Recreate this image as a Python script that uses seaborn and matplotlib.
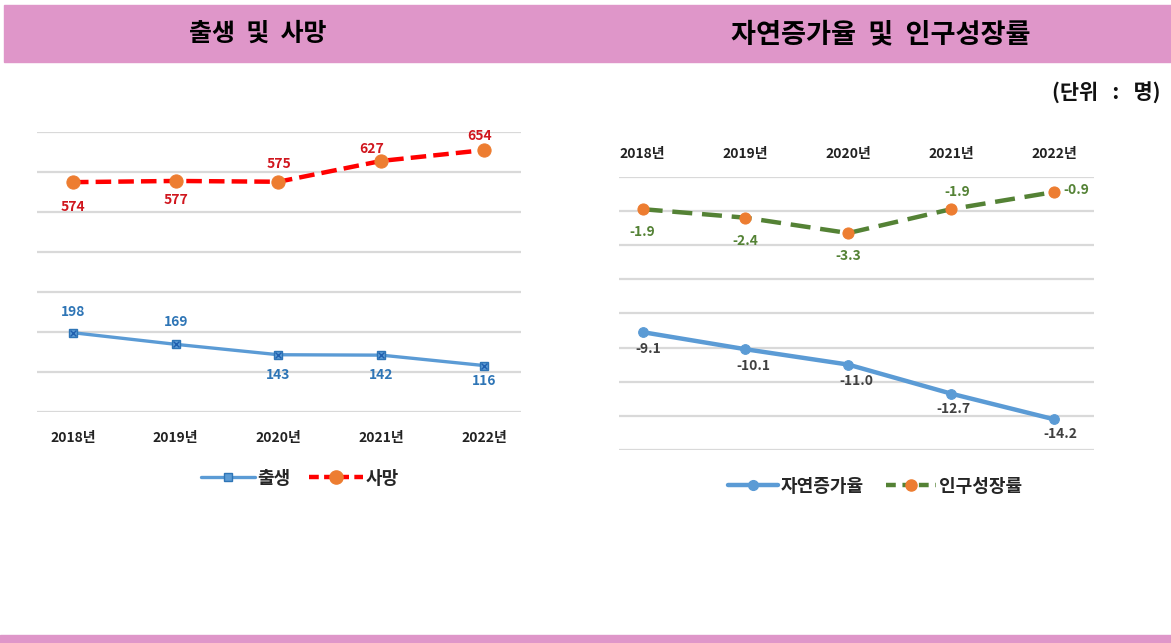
import matplotlib
matplotlib.use("Agg")
import matplotlib.pyplot as plt
import seaborn as sns
import numpy as np
from matplotlib.lines import Line2D
from matplotlib.patches import Rectangle

# ---- data ----
years = ["2018년", "2019년", "2020년", "2021년", "2022년"]
births = [198, 169, 143, 142, 116]
deaths = [574, 577, 575, 627, 654]
natural_rate = [-9.1, -10.1, -11.0, -12.7, -14.2]
growth_rate = [-1.9, -2.4, -3.3, -1.9, -0.9]

title_left = "출생  및  사망"
title_right = "자연증가율  및  인구성장률"
unit_text = "(단위   :   명)"

sns.set_theme(style="white")
plt.rcParams['font.family'] = ['Noto Sans CJK KR', 'DejaVu Sans']
plt.rcParams['axes.unicode_minus'] = False

W, H = 1171, 643
fig = plt.figure(figsize=(W / 100, H / 100), dpi=100)
fig.patch.set_facecolor("white")

def fx(px):
    return px / W

def fy(py):
    return 1 - py / H

PINK = "#DF96C9"
fig.patches.append(Rectangle((fx(4), fy(62)), 1 - fx(4), (62 - 5) / H,
                             transform=fig.transFigure, color=PINK, zorder=0))
fig.patches.append(Rectangle((0, 0), 1, (643 - 635) / H,
                             transform=fig.transFigure, color=PINK, zorder=0))
fig.text(fx(258), fy(34), title_left, ha="center", va="center",
         fontsize=18, fontweight="bold", color="black")
fig.text(fx(881), fy(34), title_right, ha="center", va="center",
         fontsize=19.6, fontweight="bold", color="black")
fig.text(fx(1160), fy(93), unit_text, ha="right", va="center",
         fontsize=15, fontweight="bold", color="#111111")

GRID = "#D9D9D9"
xpos = list(range(len(years)))

# ---- left chart ----
axL = fig.add_axes([fx(37), fy(412), fx(521) - fx(37), (412 - 131.7) / H])
for v in range(0, 701, 100):
    axL.axhline(v, color=GRID, lw=1.6, zorder=0)
sns.lineplot(x=xpos, y=births, ax=axL, color="#5B9BD5", linewidth=2.4,
             marker="s", markersize=6, markerfacecolor="#5B9BD5",
             markeredgecolor="#2E75B6", markeredgewidth=1, zorder=3)
sns.scatterplot(x=xpos, y=births, ax=axL, marker="x", s=18, color="#1F5FAE",
                linewidth=1.0, zorder=4, legend=False)
sns.lineplot(x=xpos, y=deaths, ax=axL, color="#FF0000", linewidth=3.2,
             linestyle=(0, (3.5, 1.6)), marker="o", markersize=9.5,
             markerfacecolor="#ED7D31", markeredgecolor="#ED7D31", zorder=3)
axL.set_xlim(-0.35, 4.36)
axL.set_ylim(0, 700)
axL.set_xticks(xpos)
axL.set_xticklabels(years, fontsize=10, fontweight="bold", color="#222222")
axL.tick_params(axis="x", length=0, pad=14)
axL.set_yticks([])
axL.set_xlabel("")
axL.set_ylabel("")
for s in axL.spines.values():
    s.set_visible(False)

birth_off = [(0, 21), (0, 22), (0, -20), (0, -20), (0, -15)]
death_off = [(0, -25), (0, -19), (0, 18), (-10, 12), (-4, 14)]
for i, v in enumerate(births):
    axL.annotate(f"{v}", (xpos[i], v), xytext=birth_off[i], textcoords="offset pixels",
                 ha="center", va="center", fontsize=10, fontweight="bold", color="#2E75B6")
for i, v in enumerate(deaths):
    axL.annotate(f"{v}", (xpos[i], v), xytext=death_off[i], textcoords="offset pixels",
                 ha="center", va="center", fontsize=10, fontweight="bold", color="#D0161E")

hL = [Line2D([], [], color="#5B9BD5", lw=2.4, marker="s", markersize=6,
             markerfacecolor="#5B9BD5", markeredgecolor="#2E75B6"),
      Line2D([], [], color="#FF0000", lw=3.2, linestyle=(0, (2.2, 1.2)), marker="o",
             markersize=9.5, markerfacecolor="#ED7D31", markeredgecolor="#ED7D31")]
legL = fig.legend(hL, ["출생", "사망"], loc="center", bbox_to_anchor=(fx(300), fy(478)),
                  ncol=2, frameon=False, handlelength=3.0, handletextpad=0.15,
                  columnspacing=1.0, prop={"size": 13, "weight": "bold"})

# ---- right chart ----
axR = fig.add_axes([fx(619), fy(450), fx(1094) - fx(619), (450 - 176.7) / H])
for v in range(-16, 1, 2):
    axR.axhline(v, color=GRID, lw=1.6, zorder=0)
sns.lineplot(x=xpos, y=natural_rate, ax=axR, color="#5B9BD5", linewidth=3.2,
             marker="o", markersize=7, markerfacecolor="#5B9BD5",
             markeredgecolor="#5B9BD5", zorder=3)
sns.lineplot(x=xpos, y=growth_rate, ax=axR, color="#548235", linewidth=3.2,
             linestyle=(0, (4.5, 2.2)), marker="o", markersize=8,
             markerfacecolor="#ED7D31", markeredgecolor="#ED7D31", zorder=3)
axR.set_xlim(-0.23, 4.39)
axR.set_ylim(-16, 0)
axR.xaxis.tick_top()
axR.set_xticks(xpos)
axR.set_xticklabels(years, fontsize=10, fontweight="bold", color="#222222")
axR.tick_params(axis="x", length=0, pad=11)
axR.set_yticks([])
axR.set_xlabel("")
axR.set_ylabel("")
for s in axR.spines.values():
    s.set_visible(False)

nat_off = [(6, -17), (8, -17), (8, -16), (2, -15), (6, -15)]
gro_off = [(0, -23), (0, -23), (0, -23), (6, 17), (22, 2)]
for i, v in enumerate(natural_rate):
    axR.annotate(f"{v:.1f}", (xpos[i], v), xytext=nat_off[i], textcoords="offset pixels",
                 ha="center", va="center", fontsize=10, fontweight="bold", color="#404040")
for i, v in enumerate(growth_rate):
    axR.annotate(f"{v:.1f}", (xpos[i], v), xytext=gro_off[i], textcoords="offset pixels",
                 ha="center", va="center", fontsize=10, fontweight="bold", color="#548235")

hR = [Line2D([], [], color="#5B9BD5", lw=3.2, marker="o", markersize=7,
             markerfacecolor="#5B9BD5", markeredgecolor="#5B9BD5"),
      Line2D([], [], color="#548235", lw=3.2, linestyle=(0, (2.2, 1.5)), marker="o",
             markersize=8, markerfacecolor="#ED7D31", markeredgecolor="#ED7D31")]
legR = fig.legend(hR, ["자연증가율", "인구성장률"], loc="center",
                  bbox_to_anchor=(fx(875), fy(486)), ncol=2, frameon=False,
                  handlelength=2.8, handletextpad=0.15, columnspacing=1.2,
                  prop={"size": 13, "weight": "bold"})

fig.savefig("out.png", dpi=100, facecolor="white")
